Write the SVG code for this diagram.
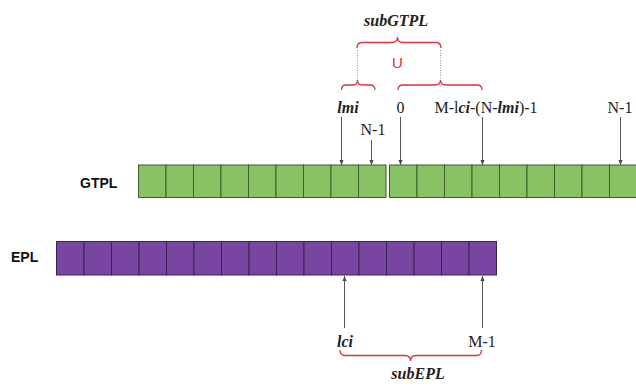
<svg xmlns="http://www.w3.org/2000/svg" width="636" height="388" viewBox="0 0 636 388">
  <defs>
    <style>
      .g { fill: #88c265; stroke: #3d5e2c; stroke-width: 1; }
      .p { fill: #7846a0; stroke: #3a2352; stroke-width: 1; }
      .lbl { font-family: "Liberation Sans", Arial, sans-serif; font-weight: bold; font-size: 14px; fill: #111; }
      .m { font-family: "Liberation Serif", "Times New Roman", serif; font-size: 16px; fill: #222; }
      .it { font-style: italic; font-weight: bold; }
      .ptr { stroke: #555; stroke-width: 1; fill: none; marker-end: url(#ah); }
      .brace { stroke: #d9363e; stroke-width: 1.3; fill: none; }
      .dot { stroke: #999; stroke-width: 1; stroke-dasharray: 1 1.5; fill: none; }
    </style>
    <marker id="ah" markerWidth="6" markerHeight="6" refX="5" refY="3" orient="auto" markerUnits="userSpaceOnUse">
      <path d="M0,1 L5,3 L0,5 z" fill="#444"/>
    </marker>
    <rect id="gc" class="g" width="27.5" height="32.5"/>
    <rect id="pc" class="p" width="27.5" height="33.5"/>
  </defs>

  <!-- row labels -->
  <text class="lbl" x="80" y="188">GTPL</text>
  <text class="lbl" x="11" y="262">EPL</text>

  <!-- GTPL: left block -->
  <g id="gtpl-left">
    <use href="#gc" x="138.5" y="165"/>
    <use href="#gc" x="166" y="165"/>
    <use href="#gc" x="193.5" y="165"/>
    <use href="#gc" x="221" y="165"/>
    <use href="#gc" x="248.5" y="165"/>
    <use href="#gc" x="276" y="165"/>
    <use href="#gc" x="303.5" y="165"/>
    <use href="#gc" x="331" y="165"/>
    <use href="#gc" x="358.5" y="165"/>
  </g>

  <!-- GTPL: right block -->
  <g id="gtpl-right">
    <use href="#gc" x="389.5" y="165"/>
    <use href="#gc" x="417" y="165"/>
    <use href="#gc" x="444.5" y="165"/>
    <use href="#gc" x="472" y="165"/>
    <use href="#gc" x="499.5" y="165"/>
    <use href="#gc" x="527" y="165"/>
    <use href="#gc" x="554.5" y="165"/>
    <use href="#gc" x="582" y="165"/>
    <use href="#gc" x="609.5" y="165"/>
  </g>

  <!-- EPL -->
  <g id="epl">
    <use href="#pc" x="56.5" y="241.5"/>
    <use href="#pc" x="84" y="241.5"/>
    <use href="#pc" x="111.5" y="241.5"/>
    <use href="#pc" x="139" y="241.5"/>
    <use href="#pc" x="166.5" y="241.5"/>
    <use href="#pc" x="194" y="241.5"/>
    <use href="#pc" x="221.5" y="241.5"/>
    <use href="#pc" x="249" y="241.5"/>
    <use href="#pc" x="276.5" y="241.5"/>
    <use href="#pc" x="304" y="241.5"/>
    <use href="#pc" x="331.5" y="241.5"/>
    <use href="#pc" x="359" y="241.5"/>
    <use href="#pc" x="386.5" y="241.5"/>
    <use href="#pc" x="414" y="241.5"/>
    <use href="#pc" x="441.5" y="241.5"/>
    <use href="#pc" x="469" y="241.5"/>
  </g>

  <!-- index pointers -->
  <g id="connectors">
    <line class="ptr" x1="341.5" y1="117" x2="341.5" y2="165"/>
    <line class="ptr" x1="371.5" y1="140" x2="371.5" y2="165"/>
    <line class="ptr" x1="400.5" y1="117" x2="400.5" y2="165"/>
    <line class="ptr" x1="482.5" y1="117" x2="482.5" y2="165"/>
    <line class="ptr" x1="620.5" y1="117" x2="620.5" y2="165"/>
    <line class="ptr" x1="344.5" y1="328" x2="344.5" y2="276"/>
    <line class="ptr" x1="482.5" y1="328" x2="482.5" y2="276"/>
  </g>

  <!-- index labels -->
  <text class="m it" x="348" y="113" text-anchor="middle">lmi</text>
  <text class="m" x="373" y="135" text-anchor="middle">N-1</text>
  <text class="m" x="400.5" y="113" text-anchor="middle">0</text>
  <text class="m" x="486" y="113" text-anchor="middle" font-size="14.5">M-l<tspan class="it">ci</tspan>-(N-<tspan class="it">lmi</tspan>)-1</text>
  <text class="m" x="620" y="113" text-anchor="middle">N-1</text>
  <text class="m it" x="345" y="347" text-anchor="middle">lci</text>
  <text class="m" x="482" y="347" text-anchor="middle">M-1</text>

  <!-- subGTPL union braces -->
  <g id="sub-gtpl">
    <path class="brace" d="M341.5,90 Q341.5,85 346,85 L353,85 Q357.5,85 357.5,80 Q357.5,85 362,85 L370,85 Q375,85 375,90"/>
    <path class="brace" d="M398,90 Q398,85 403,85 L435,85 Q440.5,85 440.5,80 Q440.5,85 446,85 L477,85 Q482,85 482,90"/>
    <line class="dot" x1="357.5" y1="50" x2="357.5" y2="80"/>
    <line class="dot" x1="440.5" y1="50" x2="440.5" y2="80"/>
    <path class="brace" d="M357,48 Q357,42.5 362,42.5 L392,42.5 Q397.5,42.5 397.5,37 Q397.5,42.5 403,42.5 L436,42.5 Q441,42.5 441,48"/>
    <text x="397.5" y="68" text-anchor="middle" font-family="'Liberation Sans', Arial, sans-serif" font-size="15" fill="#d9363e">U</text>
    <text class="m it" x="396" y="26" text-anchor="middle" font-size="18.5">subGTPL</text>
  </g>

  <!-- subEPL brace -->
  <g id="sub-epl">
    <path class="brace" d="M340,350 Q340,355.5 345,355.5 L405,355.5 Q410.5,355.5 410.5,361 Q410.5,355.5 416,355.5 L476.5,355.5 Q481.5,355.5 481.5,350"/>
    <text class="m it" x="418" y="379" text-anchor="middle" font-size="18">subEPL</text>
  </g>
</svg>
